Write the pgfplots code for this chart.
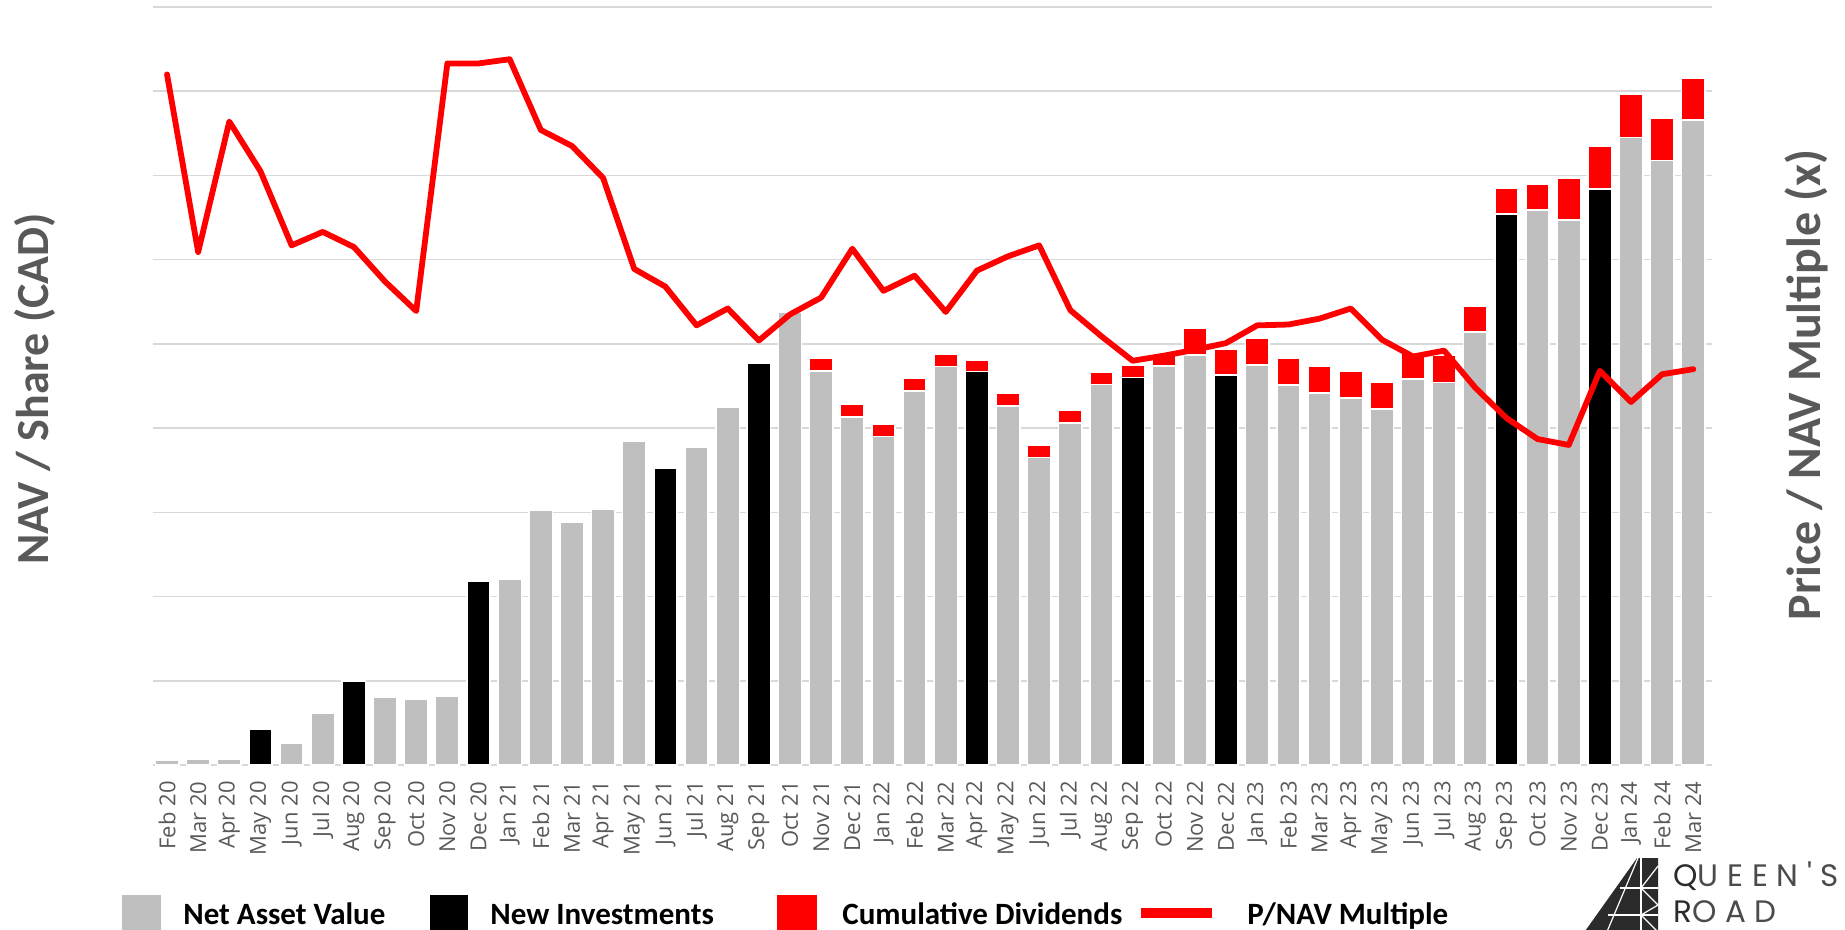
\documentclass[border=0pt]{standalone}
\usepackage{pgfplots}
\pgfplotsset{compat=1.18}
\usepackage{pgfplotstable}
\usepackage{fontspec}
\setmainfont{Carlito}
\newfontfamily\tickfont{Open Sans}
\newfontfamily\logofont[LetterSpace=28]{Poppins}
\definecolor{navgray}{HTML}{BFBFBF}
\definecolor{gridgray}{HTML}{D9D9D9}
\definecolor{labelgray}{HTML}{595959}
\definecolor{qred}{HTML}{FF0000}
\definecolor{logogray}{HTML}{2B2B2B}

\pgfplotstableread{
idx nav inv div pnav
0 0.06 0 0 8.20
1 0.07 0 0 6.09
2 0.065 0 0 7.64
3 0 0.42 0 7.05
4 0.26 0 0 6.17
5 0.62 0 0 6.33
6 0 1.00 0 6.15
7 0.80 0 0 5.74
8 0.78 0 0 5.39
9 0.82 0 0 8.33
10 0 2.18 0 8.33
11 2.21 0 0 8.38
12 3.03 0 0 7.54
13 2.88 0 0 7.35
14 3.04 0 0 6.97
15 3.85 0 0 5.89
16 0 3.52 0 5.68
17 3.77 0 0 5.22
18 4.25 0 0 5.42
19 0 4.77 0 5.04
20 5.38 0 0 5.35
21 4.68 0 0.15 5.55
22 4.13 0 0.15 6.13
23 3.90 0 0.15 5.63
24 4.44 0 0.15 5.81
25 4.73 0 0.15 5.38
26 0 4.67 0.14 5.87
27 4.26 0 0.15 6.04
28 3.65 0 0.15 6.17
29 4.06 0 0.15 5.40
30 4.52 0 0.14 5.09
31 0 4.60 0.15 4.80
32 4.74 0 0.14 4.86
33 4.87 0 0.32 4.93
34 0 4.63 0.31 5.01
35 4.75 0 0.32 5.22
36 4.51 0 0.32 5.23
37 4.42 0 0.32 5.30
38 4.36 0 0.32 5.42
39 4.23 0 0.31 5.05
40 4.58 0 0.31 4.85
41 4.54 0 0.32 4.92
42 5.14 0 0.31 4.48
43 0 6.54 0.31 4.12
44 6.59 0 0.31 3.87
45 6.47 0 0.50 3.80
46 0 6.84 0.51 4.68
47 7.45 0 0.51 4.31
48 7.18 0 0.50 4.64
49 7.66 0 0.50 4.70
}\data

\begin{document}
\begin{tikzpicture}
\useasboundingbox (0,0) rectangle (922.5pt,-465pt);
\begin{axis}[
  at={(76.5pt,-382.5pt)}, anchor=south west,
  scale only axis, width=779.5pt, height=379pt,
  xmin=-0.45, xmax=49.6, ymin=0, ymax=9,
  ybar stacked, bar width=0.75,
  ytick={1,...,9}, yticklabels={},
  ymajorgrids, grid style={gridgray, line width=0.8pt},
  extra y ticks={0}, extra y tick labels={},
  extra y tick style={grid style={gridgray, line width=1.4pt}},
  axis line style={draw=none},
  major tick length=0pt,
  xtick={0,...,49},
  xticklabels={Feb 20,Mar 20,Apr 20,May 20,Jun 20,Jul 20,Aug 20,Sep 20,Oct 20,Nov 20,Dec 20,Jan 21,Feb 21,Mar 21,Apr 21,May 21,Jun 21,Jul 21,Aug 21,Sep 21,Oct 21,Nov 21,Dec 21,Jan 22,Feb 22,Mar 22,Apr 22,May 22,Jun 22,Jul 22,Aug 22,Sep 22,Oct 22,Nov 22,Dec 22,Jan 23,Feb 23,Mar 23,Apr 23,May 23,Jun 23,Jul 23,Aug 23,Sep 23,Oct 23,Nov 23,Dec 23,Jan 24,Feb 24,Mar 24},
  xticklabel style={rotate=90, anchor=east, inner xsep=8pt, inner ysep=0pt, font=\tickfont\fontsize{11}{13}\selectfont, text=labelgray},
  clip=false,
]
\addplot[fill=navgray, draw=white, line width=0.8pt] table[x=idx,y=nav]{\data};
\addplot[fill=black, draw=white, line width=0.8pt] table[x=idx,y=inv]{\data};
\addplot[fill=qred, draw=white, line width=0.8pt] table[x=idx,y=div]{\data};
\end{axis}
\begin{axis}[
  at={(76.5pt,-382.5pt)}, anchor=south west,
  scale only axis, width=779.5pt, height=379pt,
  xmin=-0.45, xmax=49.6, ymin=0, ymax=9,
  hide axis, clip=false,
]
\addplot[qred, line width=2.9pt, line join=round, line cap=round] table[x=idx,y=pnav]{\data};
\end{axis}
\begin{scope}[x=0.5pt,y=-0.5pt]
\node[rotate=90, font=\bfseries\fontsize{23}{28}\selectfont, text=labelgray] at (35,389) {NAV / Share (CAD)};
\node[rotate=90, font=\bfseries\fontsize{24}{28}\selectfont, text=labelgray] at (1806,385) {Price / NAV Multiple (x)};
\fill[navgray] (122,895) rectangle (161,934);
\node[anchor=base west, font=\bfseries\fontsize{15.5}{18}\selectfont, inner sep=0pt] at (183,924) {Net Asset Value};
\fill[black] (430,895) rectangle (468,934);
\node[anchor=base west, font=\bfseries\fontsize{15.5}{18}\selectfont, inner sep=0pt] at (490,924) {New Investments};
\fill[qred] (777,895) rectangle (817,934);
\node[anchor=base west, font=\bfseries\fontsize{15.5}{18}\selectfont, inner sep=0pt] at (842,924) {Cumulative Dividends};
\draw[qred, line width=5pt] (1141,913) -- (1212,913);
\node[anchor=base west, font=\bfseries\fontsize{15.5}{18}\selectfont, inner sep=0pt] at (1247,924) {P/NAV Multiple};
% logo
\fill[logogray] (1583,934) -- (1637,858) -- (1658,858) -- (1658,934) -- cycle;
\draw[white, line width=0.6pt] (1638,858) -- (1606,934);
\draw[white, line width=0.6pt] (1641,858) -- (1641,934);
\draw[white, line width=0.6pt] (1620,888) -- (1658,888);
\draw[white, line width=0.6pt] (1608,915) -- (1658,915);
\draw[white, line width=0.6pt] (1641,888) -- (1658,866) (1641,888) -- (1658,905) (1641,915) -- (1658,905) (1641,915) -- (1658,932);
\node[anchor=base west, font=\logofont\fontsize{15.5}{17}\selectfont, text=logogray!85, inner sep=0pt] at (1673,886) {\textcolor{logogray}{Q}UEEN'S};
\node[anchor=base west, font=\logofont\fontsize{15.5}{17}\selectfont, text=logogray!85, inner sep=0pt] at (1673,922) {\textcolor{logogray}{R}OAD};
\end{scope}
\end{tikzpicture}
\end{document}
